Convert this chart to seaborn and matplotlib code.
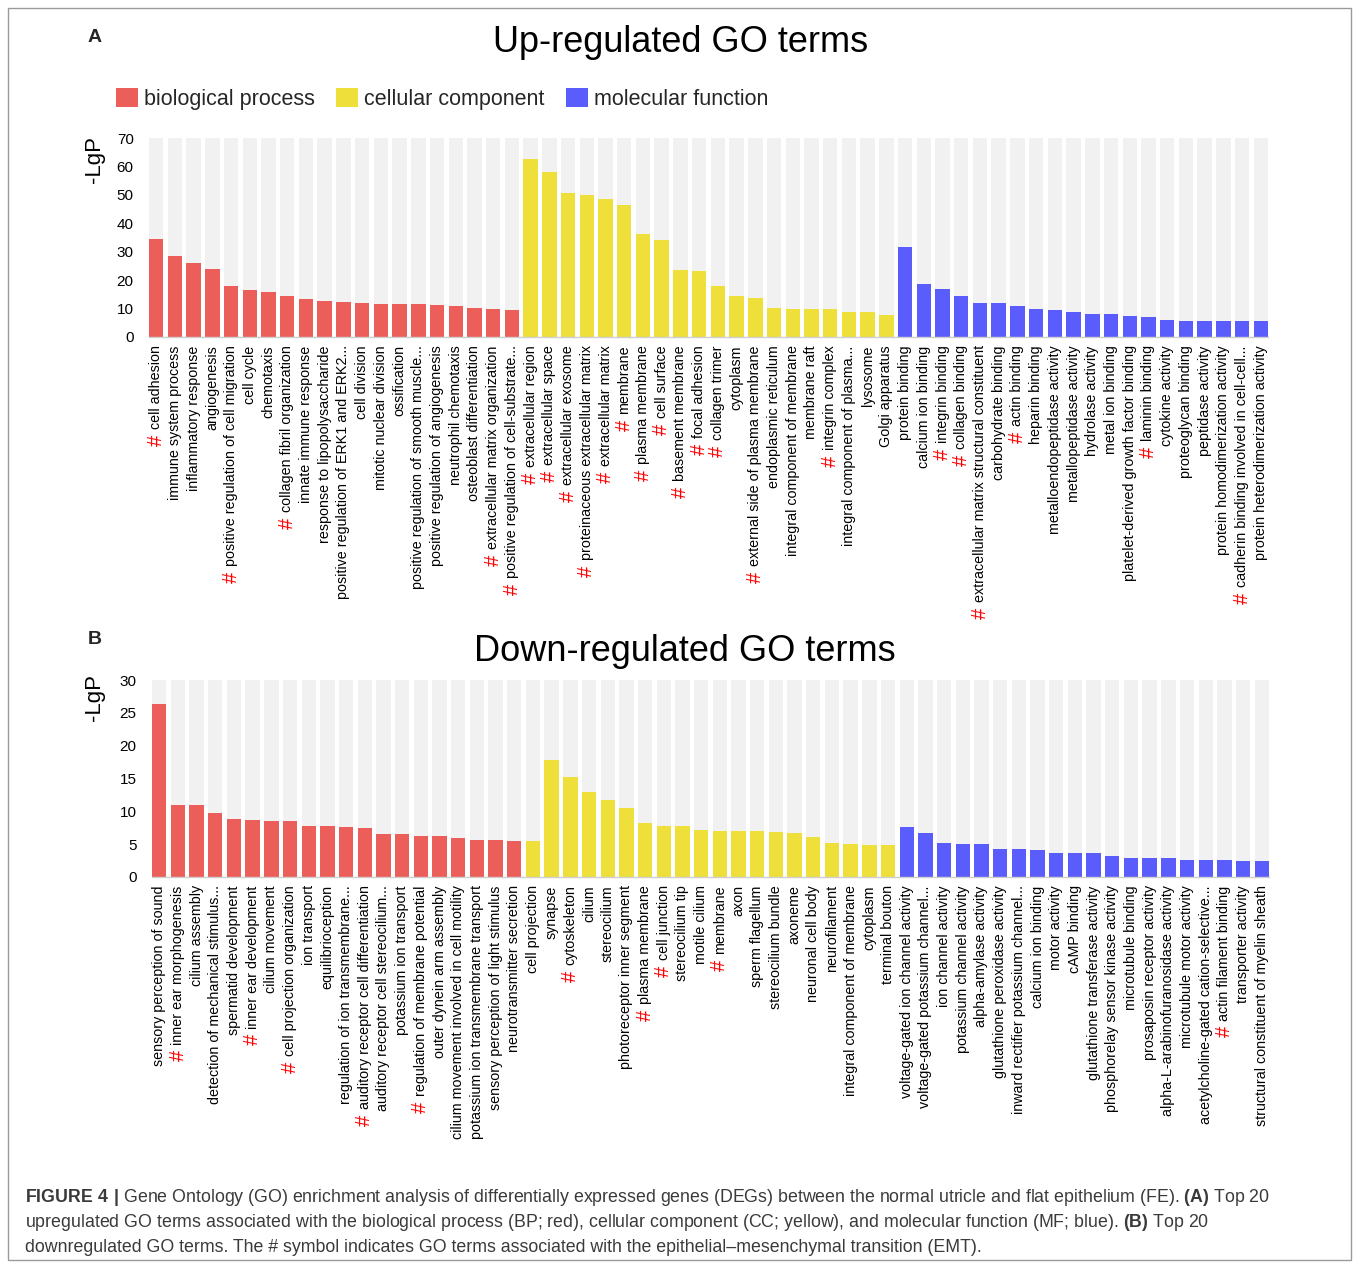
import matplotlib
matplotlib.use("Agg")
import matplotlib.pyplot as plt
import pandas as pd
import seaborn as sns
from matplotlib.patches import Rectangle

# ---------------- data ----------------
categories = ["biological process", "cellular component", "molecular function"]
palette = {"biological process": "#EC5E5A",
           "cellular component": "#EEDF3A",
           "molecular function": "#5A5DFB"}

up_bp_terms = ["cell adhesion", "immune system process", "inflammatory response", "angiogenesis",
               "positive regulation of cell migration", "cell cycle", "chemotaxis",
               "collagen fibril organization", "innate immune response",
               "response to lipopolysaccharide", "positive regulation of ERK1 and ERK2...",
               "cell division", "mitotic nuclear division", "ossification",
               "positive regulation of smooth muscle...", "positive regulation of angiogenesis",
               "neutrophil chemotaxis", "osteoblast differentiation",
               "extracellular matrix organization", "positive regulation of cell-substrate..."]
up_bp_values = [34.6, 28.5, 26.0, 23.8, 18.0, 16.5, 16.0, 14.4, 13.2, 12.6,
                12.2, 12.0, 11.5, 11.5, 11.5, 11.4, 10.9, 10.2, 9.9, 9.6]

up_cc_terms = ["extracellular region", "extracellular space", "extracellular exosome",
               "proteinaceous extracellular matrix", "extracellular matrix", "membrane",
               "plasma membrane", "cell surface", "basement membrane", "focal adhesion",
               "collagen trimer", "cytoplasm", "external side of plasma membrane",
               "endoplasmic reticulum", "integral component of membrane", "membrane raft",
               "integrin complex", "integral component of plasma...", "lysosome",
               "Golgi apparatus"]
up_cc_values = [62.6, 58.1, 50.6, 50.0, 48.4, 46.6, 36.1, 34.0, 23.4, 23.1,
                17.8, 14.5, 13.6, 10.2, 10.0, 9.9, 9.9, 8.9, 8.9, 7.6]

up_mf_terms = ["protein binding", "calcium ion binding", "integrin binding", "collagen binding",
               "extracellular matrix structural constituent", "carbohydrate binding",
               "actin binding", "heparin binding", "metalloendopeptidase activity",
               "metallopeptidase activity", "hydrolase activity", "metal ion binding",
               "platelet-derived growth factor binding", "laminin binding", "cytokine activity",
               "proteoglycan binding", "peptidase activity", "protein homodimerization activity",
               "cadherin binding involved in cell-cell...", "protein heterodimerization activity"]
up_mf_values = [31.5, 18.5, 16.9, 14.5, 11.8, 11.8, 10.8, 9.8, 9.5, 8.7,
                8.1, 8.1, 7.3, 7.1, 6.0, 5.8, 5.8, 5.8, 5.5, 5.5]

up_emt_terms = ["cell adhesion", "positive regulation of cell migration",
                "collagen fibril organization", "extracellular matrix organization",
                "positive regulation of cell-substrate...",
                "extracellular region", "extracellular space", "extracellular exosome",
                "proteinaceous extracellular matrix", "extracellular matrix", "membrane",
                "plasma membrane", "cell surface", "basement membrane", "focal adhesion",
                "collagen trimer", "external side of plasma membrane", "integrin complex",
                "integrin binding", "collagen binding",
                "extracellular matrix structural constituent", "actin binding",
                "laminin binding", "cadherin binding involved in cell-cell..."]

down_bp_terms = ["sensory perception of sound", "inner ear morphogenesis", "cilium assembly",
                 "detection of mechanical stimulus...", "spermatid development",
                 "inner ear development", "cilium movement", "cell projection organization",
                 "ion transport", "equilibrioception", "regulation of ion transmembrane...",
                 "auditory receptor cell differentiation", "auditory receptor cell stereocilium...",
                 "potassium ion transport", "regulation of membrane potential",
                 "outer dynein arm assembly", "cilium movement involved in cell motility",
                 "potassium ion transmembrane transport", "sensory perception of light stimulus",
                 "neurotransmitter secretion"]
down_bp_values = [26.3, 11.0, 11.0, 9.8, 8.8, 8.7, 8.6, 8.5, 7.7, 7.7,
                  7.6, 7.4, 6.6, 6.6, 6.3, 6.25, 6.0, 5.7, 5.7, 5.5]

down_cc_terms = ["cell projection", "synapse", "cytoskeleton", "cilium", "stereocilium",
                 "photoreceptor inner segment", "plasma membrane", "cell junction",
                 "stereocilium tip", "motile cilium", "membrane", "axon", "sperm flagellum",
                 "stereocilium bundle", "axoneme", "neuronal cell body", "neurofilament",
                 "integral component of membrane", "cytoplasm", "terminal bouton"]
down_cc_values = [5.5, 17.75, 15.2, 12.9, 11.8, 10.5, 8.2, 7.7, 7.7, 7.2,
                  7.06, 7.0, 7.0, 6.86, 6.76, 6.15, 5.14, 5.09, 4.94, 4.84]

down_mf_terms = ["voltage-gated ion channel activity", "voltage-gated potassium channel...",
                 "ion channel activity", "potassium channel activity", "alpha-amylase activity",
                 "glutathione peroxidase activity", "inward rectifier potassium channel...",
                 "calcium ion binding", "motor activity", "cAMP binding",
                 "glutathione transferase activity", "phosphorelay sensor kinase activity",
                 "microtubule binding", "prosaposin receptor activity",
                 "alpha-L-arabinofuranosidase activity", "microtubule motor activity",
                 "acetylcholine-gated cation-selective...", "actin filament binding",
                 "transporter activity", "structural constituent of myelin sheath"]
down_mf_values = [7.56, 6.76, 5.19, 5.04, 4.99, 4.29, 4.19, 4.08, 3.73, 3.63,
                  3.58, 3.23, 2.87, 2.87, 2.87, 2.52, 2.52, 2.52, 2.47, 2.37]

down_emt_terms = ["inner ear morphogenesis", "inner ear development",
                  "cell projection organization", "auditory receptor cell differentiation",
                  "regulation of membrane potential", "cytoskeleton", "plasma membrane",
                  "cell junction", "membrane", "actin filament binding"]

# ---------------- style ----------------
sns.set_theme(style="white")
plt.rcParams["font.family"] = ["Liberation Sans", "DejaVu Sans"]
plt.rcParams["mathtext.fontset"] = "custom"
plt.rcParams["mathtext.rm"] = "Liberation Sans"
plt.rcParams["mathtext.bf"] = "Liberation Sans:bold"

W, H = 1357, 1263
fig = plt.figure(figsize=(W / 100, H / 100), dpi=100)
fig.patch.set_facecolor("white")

BAR_W = 0.77


def fx(px):
    return px / W


def fy(py):
    return 1 - py / H


def panel(rect, bp_t, bp_v, cc_t, cc_v, mf_t, mf_v, ymax, ystep, with_legend, ylab_xy):
    ax = fig.add_axes(rect)
    terms = bp_t + cc_t + mf_t
    values = bp_v + cc_v + mf_v
    groups = ([categories[0]] * len(bp_t) + [categories[1]] * len(cc_t)
              + [categories[2]] * len(mf_t))
    df = pd.DataFrame({"term": terms, "value": values, "category": groups})
    bg = pd.DataFrame({"term": terms, "value": [ymax] * len(terms)})

    # light grey full-height columns behind each bar
    sns.barplot(data=bg, x="term", y="value", order=terms, color="#F1F1F1",
                saturation=1, width=BAR_W, errorbar=None, linewidth=0, ax=ax)
    sns.barplot(data=df, x="term", y="value", order=terms, hue="category",
                hue_order=categories, palette=palette, dodge=False, saturation=1,
                width=BAR_W, errorbar=None, linewidth=0, ax=ax, legend=with_legend)

    n = len(terms)
    ax.set_xlim(-BAR_W / 2, n - 1 + BAR_W / 2)
    ax.set_ylim(0, ymax)
    ax.set_yticks(range(0, ymax + 1, ystep))
    ax.set_xlabel("")
    ax.set_ylabel("-LgP", fontsize=16, color="black")
    ax.yaxis.set_label_coords(*ylab_xy)
    ax.tick_params(axis="y", length=0, pad=11, labelsize=11, labelcolor="black")
    ax.tick_params(axis="x", length=0, pad=6, labelsize=10.3, labelcolor="black",
                   labelrotation=90)
    for s in ("top", "right", "left"):
        ax.spines[s].set_visible(False)
    ax.spines["bottom"].set_color("#cfcfcf")
    ax.spines["bottom"].set_linewidth(1.0)
    ax.set_facecolor("white")
    return ax


ax_up = panel([fx(149), fy(337), fx(1268) - fx(149), fy(138) - fy(337)],
              up_bp_terms, up_bp_values, up_cc_terms, up_cc_values,
              up_mf_terms, up_mf_values, 70, 10, True, (-0.039, 0.89))
ax_dn = panel([fx(152), fy(877), fx(1269) - fx(152), fy(680) - fy(877)],
              down_bp_terms, down_bp_values, down_cc_terms, down_cc_values,
              down_mf_terms, down_mf_values, 30, 5, False, (-0.042, 0.91))

# category legend above the top panel
sns.move_legend(ax_up, "lower left", bbox_to_anchor=(fx(116), fy(110)),
                bbox_transform=fig.transFigure, ncol=3, frameon=False, title=None,
                fontsize=15.5, handlelength=1.0, handleheight=1.0, handletextpad=0.3,
                columnspacing=1.0, borderpad=0, borderaxespad=0)

fig.canvas.draw()

# red '#' markers in front of EMT-related terms
for ax, emt in ((ax_up, up_emt_terms), (ax_dn, down_emt_terms)):
    for lab in ax.get_xticklabels():
        if lab.get_text() in emt:
            ax.annotate("#", xy=(0.5, 0), xycoords=lab, xytext=(0, -4),
                        textcoords="offset points", ha="center", va="top",
                        rotation=90, color="#FF0000", fontsize=14.5,
                        annotation_clip=False)

# panel titles and letters
fig.text(fx(681), fy(42), "Up-regulated GO terms", ha="center", va="center",
         fontsize=26, color="black")
fig.text(fx(685), fy(651), "Down-regulated GO terms", ha="center", va="center",
         fontsize=26, color="black")
fig.text(fx(88), fy(38), "A", ha="left", va="center", fontsize=14, fontweight="bold")
fig.text(fx(88), fy(640), "B", ha="left", va="center", fontsize=14, fontweight="bold")

# caption
cap_color = "#3a3a3a"
cap_lines = [
    r"$\mathbf{FIGURE\ 4\ |}$ Gene Ontology (GO) enrichment analysis of differentially expressed "
    r"genes (DEGs) between the normal utricle and flat epithelium (FE). $\mathbf{(A)}$ Top 20",
    r"upregulated GO terms associated with the biological process (BP; red), cellular component "
    r"(CC; yellow), and molecular function (MF; blue). $\mathbf{(B)}$ Top 20",
    "downregulated GO terms. The # symbol indicates GO terms associated with the "
    "epithelial\u2013mesenchymal transition (EMT).",
]
for i, line in enumerate(cap_lines):
    fig.text(fx(25), fy(1202 + 25 * i), line, ha="left", va="baseline",
             fontsize=12.8, color=cap_color)

# frame around the figure
fig.patches.append(Rectangle((fx(8), fy(1260)), fx(1351) - fx(8), fy(8) - fy(1260),
                             transform=fig.transFigure, fill=False,
                             edgecolor="#9a9a9a", linewidth=1.0))

fig.savefig("out.png", dpi=100, facecolor="white")
